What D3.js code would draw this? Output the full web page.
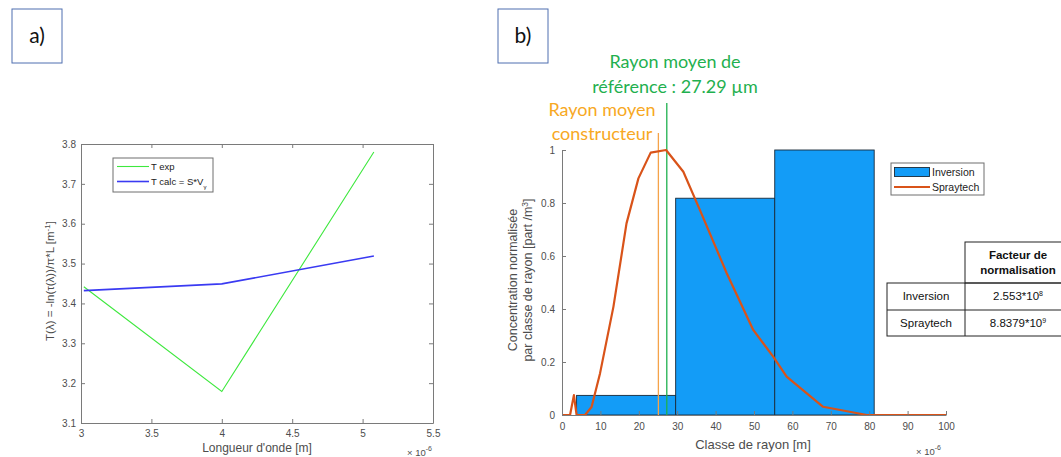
<!DOCTYPE html>
<html><head><meta charset="utf-8">
<script src="https://cdn.jsdelivr.net/npm/d3@7"></script>
<style>
body{margin:0;background:#fff;}
text{font-family:"Liberation Sans",Arial,sans-serif;}
.cal{font-family:Lato,"Noto Sans",sans-serif;}
</style></head>
<body><svg id="c" width="1061" height="457"></svg>
<script>
// ---------- Data: panel a ----------
const wavelengths = [3.02e-6, 4.0e-6, 5.08e-6];
const tExp = [3.442, 3.179, 3.78];
const tCalc = [3.432, 3.449, 3.519];
const xTicksA = [3e-6, 3.5e-6, 4e-6, 4.5e-6, 5e-6, 5.5e-6];
const yTicksA = [3.1, 3.2, 3.3, 3.4, 3.5, 3.6, 3.7, 3.8];
const legendA = ["T exp", "T calc = S*V"];

// ---------- Data: panel b ----------
const binEdges = [3.8e-6, 29.6e-6, 55.4e-6, 81.3e-6];
const inversion = [0.074, 0.818, 1.0];
const sprayRadius = [0, 2.1e-6, 3.1e-6, 3.8e-6, 6e-6, 7.7e-6, 9.9e-6, 13.4e-6, 16.8e-6, 19.9e-6, 23.1e-6, 27.1e-6, 31.6e-6, 35.9e-6, 42.9e-6, 49.8e-6, 55e-6, 58.5e-6, 68e-6, 79.4e-6, 100e-6];
const sprayValues = [0, 0, 0.075, 0, 0, 0.03, 0.157, 0.409, 0.723, 0.893, 0.99, 1.0, 0.918, 0.774, 0.535, 0.321, 0.22, 0.145, 0.031, 0, 0];
const refRadius = 27.29e-6;
const makerRadius = 25.1e-6;
const xTicksB = [0,10,20,30,40,50,60,70,80,90,100].map(d => d*1e-6);
const yTicksB = [0, 0.2, 0.4, 0.6, 0.8, 1];
const legendB = ["Inversion", "Spraytech"];
const tableRows = ["Inversion", "Spraytech"];
const tableMant = ["2.553*10", "8.8379*10"];
const tableExp = ["8", "9"];

const svg = d3.select("#c");
svg.append("rect").attr("width",1061).attr("height",457).attr("fill","#fff");

const axisCol = "#7a7a7a", labCol = "#4d4d4d";
function styleAxis(g){
  g.select(".domain").attr("stroke",axisCol);
  g.selectAll(".tick line").attr("stroke",axisCol);
  g.selectAll(".tick text").attr("fill",labCol).style("font-size","10px").style("font-family","Liberation Sans, Arial, sans-serif");
}

// ---------- panel labels ----------
function panelLabel(x,y,t){
  svg.append("rect").attr("x",x).attr("y",y).attr("width",50).attr("height",54)
    .attr("fill","none").attr("stroke","#4f6fb0").attr("stroke-width",1);
  svg.append("text").attr("class","cal").attr("x",x+25).attr("y",y+34).attr("text-anchor","middle")
    .style("font-size","21px").attr("fill","#111").text(t);
}
panelLabel(12,9,"a)");
panelLabel(498,9,"b)");

// ---------- Panel a ----------
const xA = d3.scaleLinear().domain([3e-6,5.5e-6]).range([81,433]);
const yA = d3.scaleLinear().domain([3.1,3.8]).range([423,144]);
const fmtA = d => d3.format("")(+(d*1e6).toFixed(2));

svg.append("g").attr("transform","translate(0,423)")
  .call(d3.axisBottom(xA).tickValues(xTicksA).tickFormat(fmtA).tickSizeInner(-4).tickSizeOuter(0).tickPadding(7)).call(styleAxis);
svg.append("g").attr("transform","translate(0,144)")
  .call(d3.axisTop(xA).tickValues(xTicksA).tickFormat("").tickSizeInner(-4).tickSizeOuter(0)).call(styleAxis);
svg.append("g").attr("transform","translate(81,0)")
  .call(d3.axisLeft(yA).tickValues(yTicksA).tickFormat(d3.format(".1f")).tickSizeInner(-4).tickSizeOuter(0).tickPadding(5)).call(styleAxis);
svg.append("g").attr("transform","translate(433,0)")
  .call(d3.axisRight(yA).tickValues(yTicksA).tickFormat("").tickSizeInner(-4).tickSizeOuter(0)).call(styleAxis);

const lineA = d3.line().x((d,i)=>xA(wavelengths[i])).y(d=>yA(d));
svg.append("path").attr("d",lineA(tExp)).attr("fill","none").attr("stroke","#3ee83e").attr("stroke-width",1.1);
svg.append("path").attr("d",lineA(tCalc)).attr("fill","none").attr("stroke","#3a3af2").attr("stroke-width",1.6);

// legend a
svg.append("rect").attr("x",113).attr("y",158).attr("width",100).attr("height",34).attr("fill","#fff").attr("stroke","#6e6e6e");
[["#3ee83e",166.5,1.1],["#3a3af2",181.5,1.6]].forEach((c,i)=>{
  svg.append("line").attr("x1",117).attr("x2",149).attr("y1",c[1]).attr("y2",c[1]).attr("stroke",c[0]).attr("stroke-width",c[2]);
  const t = svg.append("text").attr("x",151).attr("y",c[1]+3.5).style("font-size","9.5px").attr("fill","#222").text(legendA[i]);
  if(i===1) t.append("tspan").attr("dy",4).style("font-size","6px").text("γ");
});

// axis titles a
svg.append("text").attr("x",257).attr("y",452).attr("text-anchor","middle").style("font-size","12px").attr("fill",labCol).text("Longueur d'onde [m]");
const e1 = svg.append("text").attr("x",407).attr("y",456).style("font-size","9.5px").attr("fill",labCol).text("× 10");
e1.append("tspan").attr("dy",-5).style("font-size","7px").text("-6");
const yl = svg.append("text").attr("transform","translate(54,281) rotate(-90)").attr("text-anchor","middle").style("font-size","11.5px").attr("fill",labCol);
yl.append("tspan").text("T(λ) = -ln(τ(λ))/π*L [m");
yl.append("tspan").attr("dy",-4).style("font-size","8px").text("-1");
yl.append("tspan").attr("dy",4).text("]");

// ---------- Panel b ----------
const xB = d3.scaleLinear().domain([0,100e-6]).range([562,946]);
const yB = d3.scaleLinear().domain([0,1]).range([415,150]);

// bars
svg.append("g").selectAll("rect").data(inversion).join("rect")
  .attr("x",(d,i)=>xB(binEdges[i])).attr("width",(d,i)=>xB(binEdges[i+1])-xB(binEdges[i]))
  .attr("y",d=>yB(d)).attr("height",d=>yB(0)-yB(d))
  .attr("fill","#139cf7").attr("stroke","#1a2a3a").attr("stroke-width",0.9);

// vertical reference lines
svg.append("line").attr("x1",xB(makerRadius)).attr("x2",xB(makerRadius)).attr("y1",yB(0)).attr("y2",yB(1.064))
  .attr("stroke","#f5a34a").attr("stroke-width",1.3);
svg.append("line").attr("x1",xB(refRadius)).attr("x2",xB(refRadius)).attr("y1",yB(0)).attr("y2",yB(1.177))
  .attr("stroke","#1fb04f").attr("stroke-width",1.3);

// spraytech line
const lineB = d3.line().x((d,i)=>xB(sprayRadius[i])).y(d=>yB(d));
svg.append("path").attr("d",lineB(sprayValues)).attr("fill","none").attr("stroke","#d95319").attr("stroke-width",2.2).attr("stroke-linejoin","round");

// axes b
svg.append("g").attr("transform","translate(0,415)")
  .call(d3.axisBottom(xB).tickValues(xTicksB).tickFormat(d=>Math.round(d*1e6)).tickSizeInner(-4).tickSizeOuter(0).tickPadding(8)).call(styleAxis);
svg.append("g").attr("transform","translate(562,0)")
  .call(d3.axisLeft(yB).tickValues(yTicksB).tickFormat(d3.format("")).tickSizeInner(-4).tickSizeOuter(0).tickPadding(7)).call(styleAxis);

svg.append("text").attr("x",753).attr("y",449).attr("text-anchor","middle").style("font-size","13px").attr("fill",labCol).text("Classe de rayon [m]");
const e2 = svg.append("text").attr("x",916).attr("y",455).style("font-size","9.5px").attr("fill",labCol).text("× 10");
e2.append("tspan").attr("dy",-5).style("font-size","7px").text("-6");
const yl2 = svg.append("text").attr("transform","translate(517,280) rotate(-90)").attr("text-anchor","middle").style("font-size","12.5px").attr("fill",labCol);
yl2.append("tspan").attr("x",0).attr("dy",0).text("Concentration normalisée");
yl2.append("tspan").attr("x",0).attr("dy",15).text("par classe de rayon [part /m");
yl2.append("tspan").attr("dy",-4).style("font-size","8.5px").text("3");
yl2.append("tspan").attr("dy",4).text("]");

// annotations
const ann = (x,y,t,c)=>svg.append("text").attr("class","cal").attr("x",x).attr("y",y).attr("text-anchor","middle").style("font-size","18px").attr("fill",c).text(t);
ann(675,68,"Rayon moyen de","#1fb04f");
ann(675,93,"référence : 27.29 µm","#1fb04f");
ann(602,116,"Rayon moyen","#f7a823");
ann(602,140,"constructeur","#f7a823");

// legend b
svg.append("rect").attr("x",891).attr("y",163).attr("width",93).attr("height",32).attr("fill","#fff").attr("stroke","#6e6e6e");
svg.append("rect").attr("x",894.5).attr("y",167.5).attr("width",35).attr("height",9).attr("fill","#139cf7").attr("stroke","#1a2a3a").attr("stroke-width",0.9);
svg.append("line").attr("x1",894).attr("x2",930).attr("y1",187).attr("y2",187).attr("stroke","#d95319").attr("stroke-width",2);
svg.append("text").attr("x",932).attr("y",176).style("font-size","10.5px").attr("fill","#222").text(legendB[0]);
svg.append("text").attr("x",932).attr("y",191).style("font-size","10.5px").attr("fill","#222").text(legendB[1]);

// table
const tb = svg.append("g").attr("class","cal");
tb.append("rect").attr("x",965).attr("y",242).attr("width",110).attr("height",41).attr("fill","none").attr("stroke","#222");
tb.append("rect").attr("x",887).attr("y",283).attr("width",188).attr("height",53).attr("fill","none").attr("stroke","#222");
tb.append("line").attr("x1",965).attr("x2",965).attr("y1",283).attr("y2",336).attr("stroke","#222");
tb.append("line").attr("x1",887).attr("x2",1075).attr("y1",310).attr("y2",310).attr("stroke","#222");
tb.append("text").attr("x",1018).attr("y",259).attr("text-anchor","middle").style("font-size","11.5px").style("font-weight","bold").attr("fill","#111").text("Facteur de");
tb.append("text").attr("x",1018).attr("y",274).attr("text-anchor","middle").style("font-size","11.5px").style("font-weight","bold").attr("fill","#111").text("normalisation");
tableRows.forEach((r,i)=>{
  const y = 300 + i*27;
  tb.append("text").attr("x",926).attr("y",y).attr("text-anchor","middle").style("font-size","11.5px").attr("fill","#111").text(r);
  const t = tb.append("text").attr("x",1018).attr("y",y).attr("text-anchor","middle").style("font-size","11.5px").attr("fill","#111").text(tableMant[i]);
  t.append("tspan").attr("dy",-4).style("font-size","7px").text(tableExp[i]);
});
</script></body></html>
